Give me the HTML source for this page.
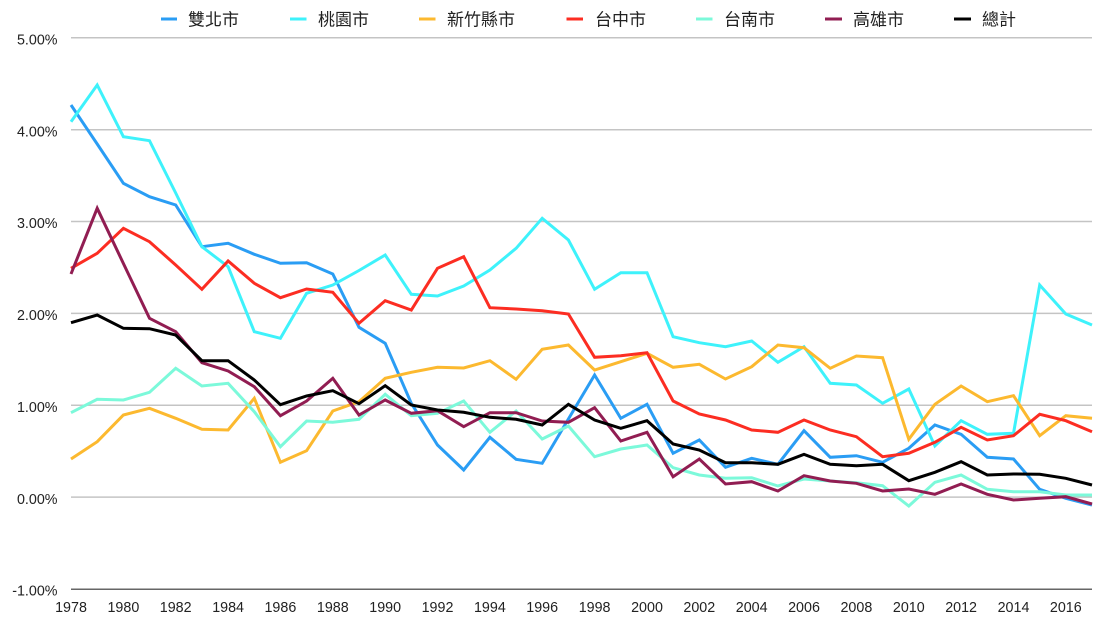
<!DOCTYPE html>
<html>
<head>
<meta charset="utf-8">
<style>
  html,body{margin:0;padding:0;background:#fff;}
  svg{display:block;}
  text{font-family:"Liberation Sans","Noto Sans CJK TC",sans-serif;fill:#222;}
</style>
</head>
<body>
<svg width="1106" height="620" viewBox="0 0 1106 620" xmlns="http://www.w3.org/2000/svg">
  <!-- gridlines -->
  <g stroke="#c4c4c4" stroke-width="1.5">
    <line x1="71" y1="37.8" x2="1092" y2="37.8"/>
    <line x1="71" y1="129.7" x2="1092" y2="129.7"/>
    <line x1="71" y1="221.5" x2="1092" y2="221.5"/>
    <line x1="71" y1="313.4" x2="1092" y2="313.4"/>
    <line x1="71" y1="405.3" x2="1092" y2="405.3"/>
    <line x1="71" y1="497.1" x2="1092" y2="497.1"/>
  </g>
  <line x1="71" y1="589.2" x2="1092" y2="589.2" stroke="#666" stroke-width="1.5"/>

  <!-- y labels -->
  <g font-size="14.3" text-anchor="end">
    <text x="57.5" y="44.5">5.00%</text>
    <text x="57.5" y="136.4">4.00%</text>
    <text x="57.5" y="228.2">3.00%</text>
    <text x="57.5" y="320.1">2.00%</text>
    <text x="57.5" y="412">1.00%</text>
    <text x="57.5" y="503.8">0.00%</text>
    <text x="57.5" y="595.7">-1.00%</text>
  </g>

  <!-- x labels -->
  <g font-size="14.3" text-anchor="middle">
    <text x="71" y="612">1978</text>
    <text x="123.4" y="612">1980</text>
    <text x="175.7" y="612">1982</text>
    <text x="228.1" y="612">1984</text>
    <text x="280.4" y="612">1986</text>
    <text x="332.8" y="612">1988</text>
    <text x="385.2" y="612">1990</text>
    <text x="437.5" y="612">1992</text>
    <text x="489.9" y="612">1994</text>
    <text x="542.2" y="612">1996</text>
    <text x="594.6" y="612">1998</text>
    <text x="647" y="612">2000</text>
    <text x="699.3" y="612">2002</text>
    <text x="751.7" y="612">2004</text>
    <text x="804" y="612">2006</text>
    <text x="856.4" y="612">2008</text>
    <text x="908.8" y="612">2010</text>
    <text x="961.1" y="612">2012</text>
    <text x="1013.5" y="612">2014</text>
    <text x="1065.8" y="612">2016</text>
  </g>

  <!-- series -->
  <g fill="none" stroke-width="3" stroke-linejoin="miter" stroke-linecap="butt">
    <!-- 雙北市 -->
    <polyline stroke="#2a9df4" points="71,105 97.2,144 123.4,183.3 149.5,196.7 175.7,205 201.9,246.7 228.1,243.3 254.3,254.3 280.4,263.3 306.6,262.7 332.8,274 359,327.3 385.2,343.3 411.3,403.3 437.5,445 463.7,470 489.9,437.3 516.1,459.3 542.2,463.3 568.4,419 594.6,375 620.8,418.3 647,404.3 673.1,453.3 699.3,440 725.5,467.3 751.7,458.3 777.9,464.3 804,430.7 830.2,457.3 856.4,455.7 882.6,462.3 908.8,448.3 934.9,425 961.1,434.3 987.3,457.3 1013.5,459 1039.7,489.3 1065.8,498.3 1092,505"/>
    <!-- 桃園市 -->
    <polyline stroke="#3ef2fb" points="71,121.7 97.2,85 123.4,136.7 149.5,140.7 175.7,193 201.9,246.7 228.1,266.7 254.3,331.7 280.4,338.3 306.6,293.3 332.8,285 359,270.5 385.2,255 411.3,294.3 437.5,296 463.7,286 489.9,270 516.1,248.3 542.2,218.3 568.4,240 594.6,289.3 620.8,272.7 647,272.7 673.1,336.7 699.3,342.7 725.5,346.7 751.7,341 777.9,362.3 804,346.7 830.2,383.3 856.4,385 882.6,403.3 908.8,389 934.9,446 961.1,420.7 987.3,434.3 1013.5,433.3 1039.7,285 1065.8,314 1092,325"/>
    <!-- 新竹縣市 -->
    <polyline stroke="#fcb92f" points="71,459 97.2,441.7 123.4,415 149.5,408.3 175.7,418.3 201.9,429.3 228.1,430 254.3,398.3 280.4,462.3 306.6,450.7 332.8,411 359,401.7 385.2,378.3 411.3,372.3 437.5,367.3 463.7,368 489.9,360.7 516.1,379.3 542.2,349.3 568.4,345 594.6,370 620.8,361.7 647,353.3 673.1,367.3 699.3,364.3 725.5,379 751.7,366.7 777.9,345 804,347.7 830.2,368.3 856.4,356 882.6,357.7 908.8,439.3 934.9,404.3 961.1,386 987.3,401.7 1013.5,395.7 1039.7,435.7 1065.8,415.7 1092,418.3"/>
    <!-- 台中市 -->
    <polyline stroke="#fc2d22" points="71,268.3 97.2,253.3 123.4,228.3 149.5,241.7 175.7,265 201.9,289.3 228.1,261 254.3,283.3 280.4,297.7 306.6,289 332.8,292.3 359,323.3 385.2,300.7 411.3,310 437.5,268.3 463.7,256.7 489.9,307.7 516.1,309 542.2,310.7 568.4,314 594.6,357.3 620.8,355.7 647,352.7 673.1,401 699.3,414 725.5,420 751.7,430 777.9,432.3 804,420 830.2,430 856.4,436.7 882.6,456.7 908.8,453.3 934.9,442.3 961.1,427.3 987.3,440 1013.5,435.7 1039.7,414.3 1065.8,420.7 1092,431.7"/>
    <!-- 台南市 -->
    <polyline stroke="#7cf9da" points="71,412.7 97.2,399.3 123.4,400 149.5,392.3 175.7,368.3 201.9,386 228.1,383.3 254.3,411.7 280.4,446.7 306.6,421 332.8,422.3 359,419.3 385.2,394.3 411.3,415.7 437.5,413.3 463.7,401 489.9,432.3 516.1,411 542.2,439 568.4,426 594.6,456.7 620.8,449 647,445 673.1,467.7 699.3,475 725.5,478.3 751.7,477.7 777.9,486 804,479 830.2,481 856.4,482.7 882.6,485.7 908.8,506 934.9,482.3 961.1,475 987.3,489.3 1013.5,491.7 1039.7,491.7 1065.8,495 1092,495"/>
    <!-- 高雄市 -->
    <polyline stroke="#911d52" points="71,274 97.2,208.3 123.4,263.5 149.5,318.3 175.7,331.7 201.9,362.7 228.1,371 254.3,386.7 280.4,415.7 306.6,401 332.8,378.3 359,415 385.2,400 411.3,413.3 437.5,410.7 463.7,426.7 489.9,412.7 516.1,412.7 542.2,421 568.4,422.3 594.6,407.7 620.8,441 647,432.3 673.1,476.7 699.3,459 725.5,484 751.7,481.7 777.9,491 804,475.7 830.2,481 856.4,483.3 882.6,491 908.8,489 934.9,494.3 961.1,484 987.3,494.3 1013.5,500 1039.7,498.3 1065.8,496.7 1092,504"/>
    <!-- 總計 -->
    <polyline stroke="#000" points="71,322.7 97.2,315 123.4,328.3 149.5,328.7 175.7,335 201.9,360.7 228.1,360.7 254.3,380 280.4,404.7 306.6,396 332.8,390.7 359,403.7 385.2,385.7 411.3,405 437.5,410 463.7,412.3 489.9,417.3 516.1,419.3 542.2,425 568.4,404.3 594.6,420 620.8,428.3 647,420.7 673.1,444 699.3,450 725.5,462.7 751.7,462.7 777.9,464.3 804,454.3 830.2,464.3 856.4,465.7 882.6,464.3 908.8,480.7 934.9,472.3 961.1,461.7 987.3,475 1013.5,474 1039.7,474.3 1065.8,478.3 1092,485"/>
  </g>

  <!-- legend -->
  <g stroke-width="3">
    <line x1="161" y1="19" x2="177" y2="19" stroke="#2a9df4"/>
    <line x1="290" y1="19" x2="306.5" y2="19" stroke="#3ef2fb"/>
    <line x1="419" y1="19" x2="435.5" y2="19" stroke="#fcb92f"/>
    <line x1="566.5" y1="19" x2="583" y2="19" stroke="#fc2d22"/>
    <line x1="696" y1="19" x2="712.5" y2="19" stroke="#7cf9da"/>
    <line x1="825" y1="19" x2="842" y2="19" stroke="#911d52"/>
    <line x1="954" y1="19" x2="971" y2="19" stroke="#000"/>
  </g>
  <g font-size="17">
    <text x="188" y="25.5">雙北市</text>
    <text x="318" y="25.5">桃園市</text>
    <text x="447" y="25.5">新竹縣市</text>
    <text x="595" y="25.5">台中市</text>
    <text x="724" y="25.5">台南市</text>
    <text x="853" y="25.5">高雄市</text>
    <text x="982" y="25.5">總計</text>
  </g>
</svg>
</body>
</html>
